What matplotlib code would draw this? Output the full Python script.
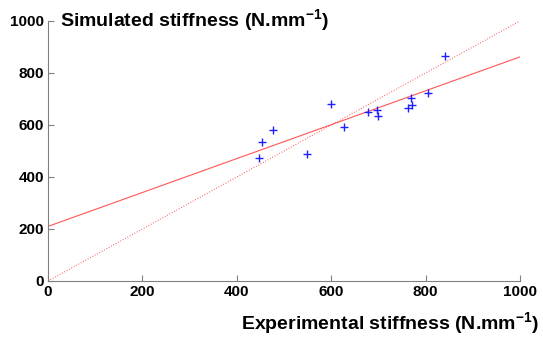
import matplotlib
matplotlib.use("Agg")
import matplotlib.pyplot as plt
import numpy as np

plt.rcParams['font.family'] = ['Liberation Sans', 'DejaVu Sans']
plt.rcParams['mathtext.fontset'] = 'custom'
plt.rcParams['mathtext.rm'] = 'Liberation Sans'
plt.rcParams['mathtext.bf'] = 'Liberation Sans:bold'

experimental = [448, 453, 477, 549, 600, 628, 677, 698, 699, 763, 769, 772, 806, 842]
simulated = [473, 533, 581, 488, 681, 591, 649, 659, 635, 664, 703, 677, 724, 866]
fit_intercept = 210
fit_slope = 0.652
ticks = [0, 200, 400, 600, 800, 1000]

fig = plt.figure(figsize=(5.43, 3.39), dpi=100)
ax = fig.add_axes([48/543, 1-281/339, 472/543, 260/339])

xl = np.array([0, 1000])
ax.plot(xl, fit_intercept + fit_slope*xl, color='#ff5555', lw=0.8)
ax.plot(xl, xl, color='#ff5555', lw=0.8, ls=(0, (0.8, 1.6)))
ax.plot(experimental, simulated, '+', color='#2020ff', ms=6, mew=1.0)

ax.set_xlim(0, 1000)
ax.set_ylim(0, 1000)
ax.set_xticks(ticks)
ax.set_yticks(ticks)
for s in ['top', 'right']:
    ax.spines[s].set_visible(False)
for s in ['left', 'bottom']:
    ax.spines[s].set_color('#808080')
    ax.spines[s].set_linewidth(0.8)
ax.tick_params(direction='in', length=4, color='#808080', labelsize=11, pad=3)
for lab in ax.get_xticklabels() + ax.get_yticklabels():
    lab.set_fontweight('bold')

fig.text(60/543, 1-21/339, r'Simulated stiffness (N.mm$^{\mathbf{-1}}$)', fontsize=14,
         fontweight='bold', ha='left', va='center')
fig.text(539/543, 1-324/339, r'Experimental stiffness (N.mm$^{\mathbf{-1}}$)', fontsize=14,
         fontweight='bold', ha='right', va='center')

fig.savefig('out.png', dpi=100)
